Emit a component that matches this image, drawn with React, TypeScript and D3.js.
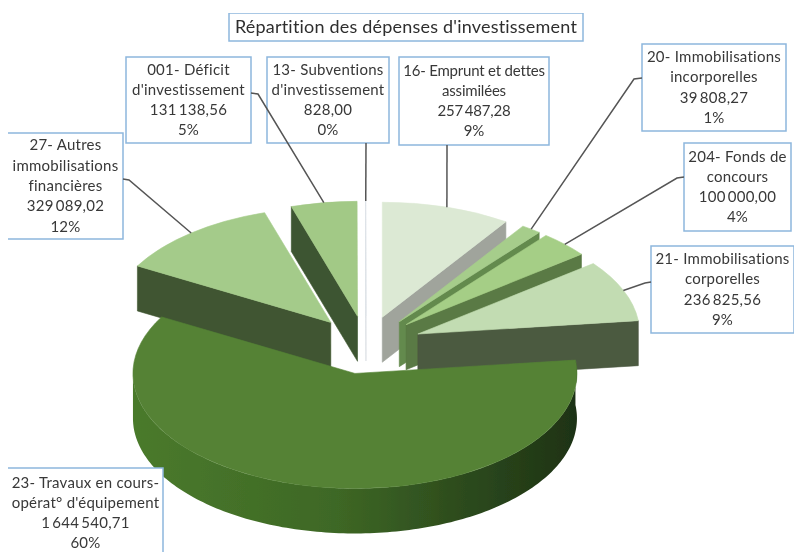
import React from "react";
import * as d3 from "d3";

const title = "Répartition des dépenses d'investissement";
const categories = [
  ["16- Emprunt et dettes", "assimilées"],
  ["20- Immobilisations", "incorporelles"],
  ["204- Fonds de", "concours"],
  ["21- Immobilisations", "corporelles"],
  ["23- Travaux en cours-", "opérat° d'équipement"],
  ["27- Autres", "immobilisations", "financières"],
  ["001- Déficit", "d'investissement"],
  ["13- Subventions", "d'investissement"],
];
const amounts = [
  257487.28, 39808.27, 100000, 236825.56, 1644540.71, 329089.02, 131138.56, 828,
];
const topColors = ["#dce9d4", "#a6cd8b", "#a5ce86", "#c2dcb2", "#548235", "#a4cb8a", "#a2c986", "#dfe5ea"];
const wallColors = ["#a0a49c", "#648a4e", "#5a7a44", "#4c5a41", "#3f6a25", "#3f5530", "#3d5530", "#d3d9de"];

// label boxes: x0, y0, x1, y1, y of the box side where the leader starts, x of the elbow
const boxes = [
  { x0: 399, y0: 57, x1: 549, y1: 145, lx: 447, ly: 145, spacing: -0.2 },
  { x0: 642, y0: 44, x1: 786, y1: 131, lx: 634, ly: 79, sx: 642 },
  { x0: 684, y0: 143, x1: 791, y1: 231, lx: 677, ly: 178, sx: 684 },
  { x0: 651, y0: 246, x1: 794, y1: 333, lx: 645, ly: 283, sx: 651 },
  { x0: 8, y0: 468, x1: 163, y1: 558, open: true, textY: 513 },
  { x0: 8, y0: 133, x1: 123, y1: 239, lx: 129, ly: 180, sx: 123, open: true },
  { x0: 126, y0: 57, x1: 251, y1: 143, lx: 258, ly: 94, sx: 251 },
  { x0: 267, y0: 57, x1: 389, y1: 143, lx: 366, ly: 143 },
];

const width = 795;
const height = 552;
const cx = 366;
const cy = 345;
const rx = 222;
const ry = 115;
const depth = 45;
const explode = 56;
const lineGap = 20.3;
const font = "Lato, 'Open Sans', sans-serif";

const frFormat = d3.formatLocale({
  decimal: ",",
  thousands: "\u2009",
  grouping: [3],
  currency: ["", " €"],
}).format(",.2f");
const pctFormat = d3.format(".0%");

const total = d3.sum(amounts);
const pie = d3.pie<number>().sort(null).startAngle(0).endAngle(2 * Math.PI);
const arcs = pie(amounts);
const arcGen = d3.arc<any>().innerRadius(0).outerRadius(rx);
const lineGen = d3.line();

const mid = (a: any) => (a.startAngle + a.endAngle) / 2;
const apex = (a: any): [number, number] => [
  cx + explode * Math.sin(mid(a)),
  cy - (explode * Math.cos(mid(a)) * ry) / rx,
];
const rim = (a: any, angle: number): [number, number] => {
  const [ax, ay] = apex(a);
  return [ax + rx * Math.sin(angle), ay - ry * Math.cos(angle)];
};

// back to front
const drawOrder = [0, 1, 2, 3, 7, 6, 5, 4];

function wallPath(a: any) {
  const m = mid(a);
  const [ax, ay] = apex(a);
  if (m > Math.PI / 2 && m < 1.5 * Math.PI) {
    // outer wall of the front slice, from its start to the left extreme
    const angles = d3.range(a.startAngle, 1.5 * Math.PI, 0.02).concat(1.5 * Math.PI);
    const pts = angles.map((t) => rim(a, t));
    const low = pts.map(([x, y]) => [x, y + depth] as [number, number]).reverse();
    return lineGen([...pts, ...low]) + "Z";
  }
  const edge = rim(a, m < Math.PI ? a.endAngle : a.startAngle);
  return lineGen([[ax, ay], edge, [edge[0], edge[1] + depth], [ax, ay + depth]]) + "Z";
}

function Slice({ index }: { index: number }) {
  const a = arcs[index];
  const [ax, ay] = apex(a);
  const isFront = mid(a) > Math.PI / 2 && mid(a) < 1.5 * Math.PI;
  return (
    <g>
      <path
        d={wallPath(a)}
        fill={isFront ? "url(#frontWall)" : wallColors[index]}
        stroke={isFront ? "none" : wallColors[index]}
        strokeWidth={0.6}
      />
      <path
        d={arcGen(a) as string}
        transform={`translate(${ax},${ay}) scale(1,${ry / rx})`}
        fill={topColors[index]}
        stroke={topColors[index]}
        strokeWidth={0.8}
      />
    </g>
  );
}

function Label({ index }: { index: number }) {
  const b: any = boxes[index];
  const lines = [
    ...categories[index],
    frFormat(amounts[index]),
    pctFormat(amounts[index] / total),
  ];
  const centerY = b.textY ?? (b.y0 + b.y1) / 2;
  const border = b.open
    ? `M${b.x0},${b.y0}H${b.x1}V${b.y1}H${b.x0}`
    : `M${b.x0},${b.y0}H${b.x1}V${b.y1}H${b.x0}Z`;
  return (
    <g>
      <rect x={b.x0} y={b.y0} width={b.x1 - b.x0} height={b.y1 - b.y0} fill="#fff" />
      <path d={border} fill="none" stroke="#8db7dd" strokeWidth={1.5} />
      <text
        textAnchor="middle"
        fontFamily={font}
        fontSize={15}
        letterSpacing={b.spacing ?? 0.25}
        fill="#383838"
      >
        {lines.map((line, i) => (
          <tspan
            key={i}
            x={(b.x0 + b.x1) / 2}
            y={centerY + (i - (lines.length - 1) / 2) * lineGap + 5}
          >
            {line}
          </tspan>
        ))}
      </text>
    </g>
  );
}

function Leader({ index }: { index: number }) {
  const b: any = boxes[index];
  if (b.lx === undefined) return null;
  const a = arcs[index];
  const end = rim(a, mid(a));
  const pts: [number, number][] = [];
  if (b.sx !== undefined) pts.push([b.sx, b.ly - 1]);
  pts.push([b.lx, b.ly]);
  pts.push(end);
  return <path d={lineGen(pts) as string} fill="none" stroke="#555" strokeWidth={1.5} />;
}

export default function App() {
  return (
    <svg
      width={width}
      height={height}
      viewBox={`0 0 ${width} ${height}`}
      style={{ position: "absolute", left: 0, top: 0, background: "#fff" }}
    >
      <defs>
        <linearGradient id="frontWall" gradientUnits="userSpaceOnUse" x1={133} x2={578} y1={0} y2={0}>
          <stop offset="0" stopColor="#4a7a2c" />
          <stop offset="0.45" stopColor="#3e6825" />
          <stop offset="0.75" stopColor="#2c4a1d" />
          <stop offset="1" stopColor="#1e3214" />
        </linearGradient>
        <filter id="soft" x="0" y="0" width="100%" height="100%">
          <feGaussianBlur stdDeviation="0.45" />
        </filter>
      </defs>
      <g filter="url(#soft)">
        {drawOrder.map((i) => (
          <Slice key={i} index={i} />
        ))}
        {arcs.map((_, i) => (
          <Label key={i} index={i} />
        ))}
        {arcs.map((_, i) => (
          <Leader key={i} index={i} />
        ))}
        <rect x={229} y={13} width={354} height={28} fill="#fff" stroke="#8db7dd" strokeWidth={1.5} />
        <text x={406} y={33} textAnchor="middle" fontFamily={font} fontSize={18} letterSpacing={0.2} fill="#2f2f2f">
          {title}
        </text>
      </g>
    </svg>
  );
}
